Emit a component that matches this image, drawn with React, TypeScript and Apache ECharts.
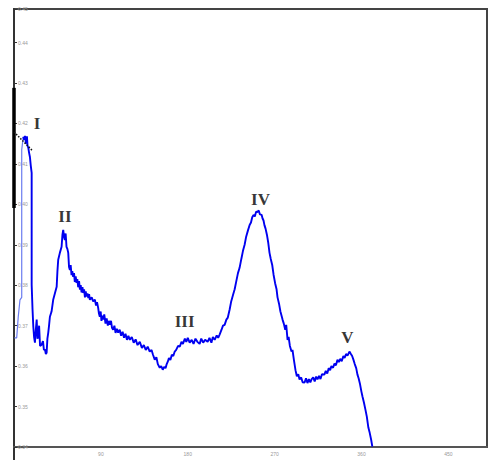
import React, { useEffect, useRef } from "react";
import * as echarts from "echarts";

// x ticks and y ticks
const xTicks = [0, 90, 180, 270, 360, 450];
const yTicks = [0.34, 0.35, 0.36, 0.37, 0.38, 0.39, 0.4, 0.41, 0.42, 0.43, 0.44];

// initial rise (lighter blue)
const riseSeries: [number, number][] = [
  [0.5, 0.367], [2.8, 0.367], [4.4, 0.3722], [6.2, 0.3764], [8.0, 0.377], [8.0, 0.4135], [9.6, 0.4167],
];

// main spectrum (blue)
const mainSeries: [number, number][] = [
  [9.6, 0.4167], [10.5, 0.416], [11.4, 0.4169], [12.4, 0.415], [13.4, 0.4168], [14.0, 0.4145], [14.8, 0.414],
  [15.6, 0.4128], [16.5, 0.4117], [17.4, 0.4095], [18.3, 0.4078], [18.3, 0.3801], [19.2, 0.374], [20.0, 0.3698],
  [20.8, 0.3672], [21.7, 0.3658], [22.6, 0.369], [23.5, 0.3715], [24.3, 0.3668], [25.1, 0.3673], [26.0, 0.37],
  [27.0, 0.365], [28.6, 0.3653], [30.0, 0.3662], [31.0, 0.364], [32.1, 0.3641], [33.0, 0.363], [33.8, 0.3633],
  [34.6, 0.3668], [35.5, 0.3683], [36.3, 0.37], [37.2, 0.3722], [38.9, 0.3735], [40.6, 0.3764], [42.4, 0.378],
  [44.2, 0.3796], [45.0, 0.3835], [45.8, 0.3863], [47.5, 0.388], [49.3, 0.3895], [50.2, 0.3925], [51.0, 0.3937],
  [51.8, 0.392], [52.7, 0.3912], [53.5, 0.3928], [54.4, 0.3895], [55.3, 0.389], [56.2, 0.388], [57.0, 0.3845],
  [57.9, 0.3838], [58.7, 0.385], [59.6, 0.3825], [60.4, 0.3835], [61.3, 0.3821], [62.2, 0.383], [63.0, 0.3808],
  [63.9, 0.3822], [64.8, 0.3806], [65.6, 0.3815], [66.5, 0.3795], [67.4, 0.381], [68.3, 0.3789], [69.1, 0.38],
  [70.0, 0.3782], [70.9, 0.3795], [71.7, 0.3781], [72.6, 0.379], [73.5, 0.377], [74.3, 0.3785], [75.2, 0.3772],
  [76.1, 0.378], [77.0, 0.3768], [77.8, 0.3778], [78.6, 0.3764], [80.5, 0.377], [82.0, 0.376], [83.8, 0.3764],
  [85.0, 0.375], [86.0, 0.3758], [87.2, 0.3744], [88.0, 0.373], [88.9, 0.3722], [89.8, 0.3735], [90.6, 0.3712],
  [91.5, 0.3725], [92.3, 0.3715], [93.5, 0.3728], [94.8, 0.3705], [96.0, 0.3718], [97.2, 0.37], [98.2, 0.3712],
  [99.3, 0.3702], [100.5, 0.3712], [101.5, 0.3695], [102.7, 0.369], [104.0, 0.37], [105.2, 0.3682], [106.5, 0.3692],
  [107.9, 0.3683], [109.5, 0.369], [111.0, 0.3675], [112.5, 0.3685], [114.0, 0.367], [115.5, 0.368], [117.0, 0.3665],
  [118.5, 0.3675], [120.0, 0.3665], [122.0, 0.3672], [124.0, 0.3658], [126.0, 0.3666], [128.0, 0.3652], [130.3, 0.366],
  [132.5, 0.3645], [134.5, 0.3652], [136.5, 0.364], [138.5, 0.3648], [140.6, 0.3636], [142.5, 0.364], [144.0, 0.3628],
  [145.8, 0.3616], [147.5, 0.3622], [149.0, 0.3605], [151.0, 0.3596], [152.5, 0.36], [154.1, 0.3591], [155.5, 0.3598],
  [157.0, 0.3595], [158.2, 0.3605], [159.3, 0.3611], [160.5, 0.362], [162.0, 0.3615], [163.5, 0.3628], [165.0, 0.3625],
  [166.5, 0.3636], [168.0, 0.364], [170.0, 0.365], [171.7, 0.3648], [173.5, 0.366], [175.0, 0.3655], [177.0, 0.3668],
  [178.5, 0.366], [180.0, 0.367], [182.0, 0.3658], [184.1, 0.3665], [186.0, 0.3655], [188.0, 0.3668], [190.0, 0.366],
  [192.3, 0.3655], [194.0, 0.3668], [196.0, 0.3658], [198.0, 0.3665], [200.6, 0.366], [202.5, 0.367], [204.5, 0.3658],
  [206.0, 0.3672], [207.9, 0.3665], [210.0, 0.3676], [211.5, 0.367], [213.0, 0.3678], [215.0, 0.369], [216.5, 0.37],
  [218.2, 0.3702], [220.0, 0.3715], [221.5, 0.372], [223.4, 0.374], [225.0, 0.376], [226.8, 0.3775], [228.6, 0.379],
  [230.3, 0.381], [232.0, 0.383], [233.7, 0.3843], [235.5, 0.3865], [237.2, 0.3885], [238.9, 0.39], [240.5, 0.392],
  [242.3, 0.3935], [244.1, 0.3949], [245.5, 0.3955], [246.8, 0.3968], [248.2, 0.3974], [249.5, 0.397], [250.8, 0.3982],
  [252.3, 0.3981], [253.5, 0.3985], [254.8, 0.3975], [256.5, 0.3974], [257.5, 0.3965], [258.5, 0.396], [259.5, 0.3948],
  [260.6, 0.394], [262.0, 0.3925], [263.4, 0.3905], [264.7, 0.388], [266.0, 0.3865], [267.5, 0.385], [268.9, 0.3826],
  [270.5, 0.3805], [272.0, 0.379], [273.0, 0.377], [274.5, 0.3755], [276.0, 0.3735], [278.2, 0.3715], [279.5, 0.3705],
  [281.0, 0.369], [282.0, 0.3702], [283.4, 0.3665], [284.5, 0.3672], [285.8, 0.365], [287.5, 0.3636], [288.5, 0.364],
  [290.0, 0.3615], [291.6, 0.359], [293.0, 0.3575], [294.5, 0.358], [295.8, 0.3567], [297.5, 0.3572], [299.0, 0.356],
  [300.9, 0.3559], [302.5, 0.357], [304.0, 0.3558], [305.5, 0.3568], [307.0, 0.356], [308.2, 0.3567], [310.0, 0.3572],
  [311.5, 0.3562], [313.0, 0.3574], [314.4, 0.3567], [316.0, 0.3576], [317.5, 0.3568], [319.0, 0.358], [321.5, 0.3579],
  [323.0, 0.3588], [324.5, 0.3582], [326.0, 0.3595], [327.5, 0.359], [328.8, 0.36], [330.5, 0.3596], [332.0, 0.3606],
  [333.5, 0.3602], [335.1, 0.3616], [336.5, 0.361], [338.0, 0.3618], [339.5, 0.3612], [341.2, 0.3625], [342.5, 0.362],
  [344.0, 0.363], [345.5, 0.3626], [347.5, 0.3636], [349.0, 0.363], [350.3, 0.3625], [351.6, 0.3616], [353.0, 0.3605],
  [354.5, 0.3595], [355.8, 0.3579], [357.0, 0.357], [358.5, 0.3555], [359.9, 0.3537], [361.0, 0.3525], [362.5, 0.351],
  [364.0, 0.3493], [365.5, 0.3475], [367.1, 0.3448], [368.5, 0.3435], [370.0, 0.3418], [371.2, 0.3401],
];

// artefact marks on the left axis (black)
const axisBar: [number, number][] = [[0, 0.4288], [0, 0.3991]];
const dottedMark: [number, number][] = [[0, 0.4179], [18.6, 0.4134]];

// peak labels
const peakNames = ["I", "II", "III", "IV", "V"];
const peakX = [23.8, 52.7, 176.8, 255.4, 345.4];
const peakY = [0.4201, 0.3971, 0.371, 0.4013, 0.367];

export default function App() {
  const ref = useRef<HTMLDivElement>(null);
  useEffect(() => {
    if (!ref.current) return;
    const chart = echarts.init(ref.current, undefined, { renderer: "svg" });
    chart.setOption({
      animation: false,
      backgroundColor: "#ffffff",
      grid: {
        left: 14,
        top: 9,
        right: 3,
        bottom: 13,
        show: true,
        borderColor: "#444",
        borderWidth: 2,
        backgroundColor: "transparent",
      },
      xAxis: {
        type: "value",
        min: 0,
        max: 490,
        interval: 90,
        axisLine: { show: true, lineStyle: { color: "#555", width: 2 } },
        axisTick: { show: false },
        splitLine: { show: false },
        axisLabel: {
          show: true,
          fontSize: 5,
          color: "#999",
          margin: 4,
          showMinLabel: false,
          showMaxLabel: false,
          formatter: (v: number) => (xTicks.includes(v) ? String(v) : ""),
        },
      },
      yAxis: {
        type: "value",
        min: 0.34,
        max: 0.4483,
        interval: 0.01,
        axisLine: { show: true, lineStyle: { color: "#333", width: 2 } },
        axisTick: { show: true, inside: true, length: 3, lineStyle: { color: "#333" } },
        splitLine: { show: false },
        axisLabel: {
          show: true,
          inside: true,
          fontSize: 5,
          color: "#999",
          margin: 4,
          showMaxLabel: true,
          formatter: (v: number) => {
            const r = Math.round(v * 100) / 100;
            return yTicks.some((t) => Math.abs(t - r) < 1e-9) || v > 0.445 ? r.toFixed(2) : "";
          },
        },
      },
      series: [
        {
          type: "line",
          data: riseSeries,
          showSymbol: false,
          lineStyle: { color: "#6b7cf0", width: 1.2 },
          clip: false,
        },
        {
          type: "line",
          data: mainSeries,
          showSymbol: false,
          lineStyle: { color: "#0000f0", width: 1.9 },
        },
        {
          type: "line",
          data: axisBar,
          showSymbol: false,
          clip: false,
          lineStyle: { color: "#000", width: 3.5 },
        },
        {
          type: "line",
          data: dottedMark,
          showSymbol: false,
          clip: false,
          lineStyle: { color: "#111", width: 1.5, type: "dotted" },
        },
        {
          type: "scatter",
          symbolSize: 0,
          data: peakNames.map((n, i) => ({ name: n, value: [peakX[i], peakY[i]] })),
          label: {
            show: true,
            position: "inside",
            formatter: (p: any) => p.name,
            fontFamily: "Liberation Serif",
            fontWeight: "bold",
            fontSize: 17,
            color: "#000",
          },
        },
      ],
      graphic: [
        {
          type: "line",
          shape: { x1: 14, y1: 447, x2: 14, y2: 460 },
          style: { stroke: "#333", lineWidth: 2 },
        },
      ],
    });
    return () => chart.dispose();
  }, []);
  return (
    <div
      ref={ref}
      style={{ position: "fixed", left: 0, top: 0, width: 490, height: 460 }}
    />
  );
}
